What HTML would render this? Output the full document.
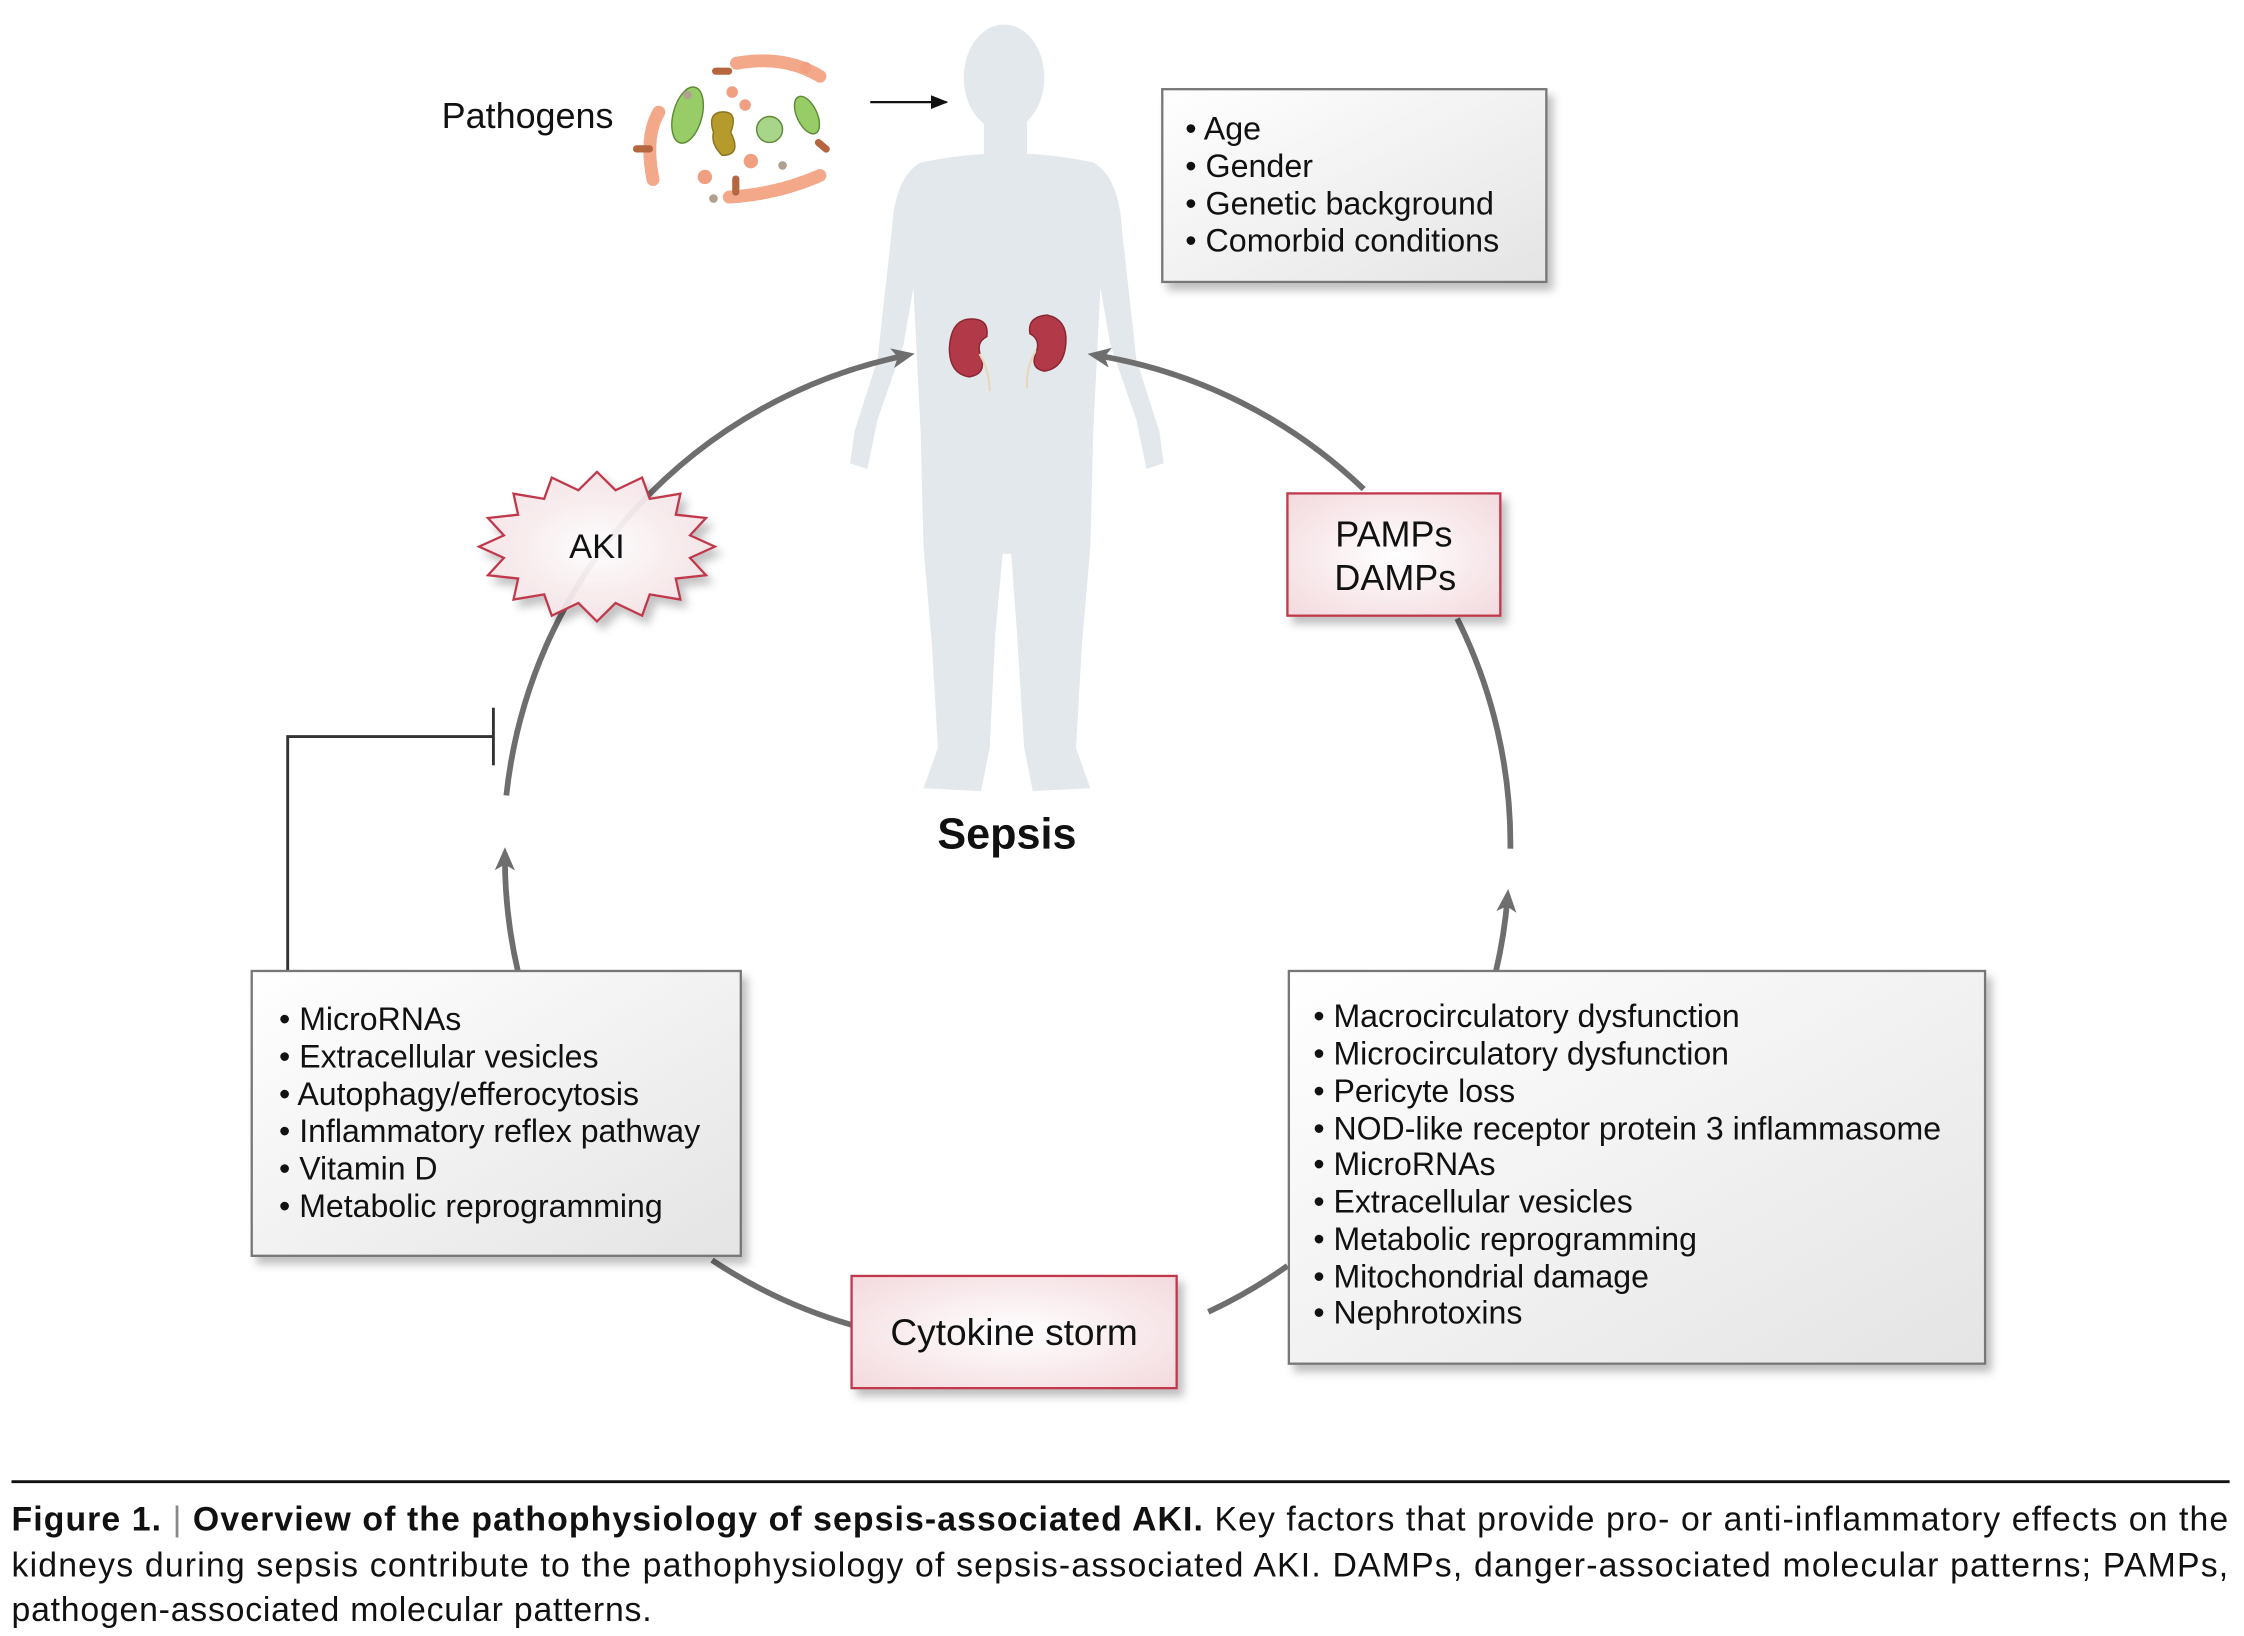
<!DOCTYPE html>
<html><head><meta charset="utf-8"><style>
html,body{margin:0;padding:0;background:#fff;}
svg{display:block;}
text{font-family:"Liberation Sans",sans-serif;fill:#111;}
</style></head><body>
<svg width="2244" height="1636" viewBox="0 0 1560 1137.3" preserveAspectRatio="none" xmlns="http://www.w3.org/2000/svg">
<defs>
<marker id="ah" markerWidth="16" markerHeight="14" refX="10" refY="7" orient="auto" markerUnits="userSpaceOnUse" viewBox="0 0 16 14">
<path d="M0,0 L16,7 L0,14 L4,7 Z" fill="#6e6e6e"/></marker>
<marker id="ab" markerWidth="12" markerHeight="12" refX="9" refY="5" orient="auto" markerUnits="userSpaceOnUse" viewBox="0 0 10 10">
<path d="M0,1 L10,5 L0,9 Z" fill="#111"/></marker>
<linearGradient id="gb" x1="0" y1="0" x2="1" y2="1"><stop offset="0" stop-color="#ffffff"/><stop offset="1" stop-color="#e4e4e4"/></linearGradient>
<radialGradient id="rb" cx="0.5" cy="0.5" r="0.7"><stop offset="0" stop-color="#ffffff"/><stop offset="1" stop-color="#f3d9dd"/></radialGradient>
<filter id="sh" x="-10%" y="-10%" width="130%" height="130%"><feDropShadow dx="4" dy="5" stdDeviation="3" flood-color="#000" flood-opacity="0.25"/></filter>
</defs>

<!-- body silhouette -->
<g fill="#e3e8ec">
<ellipse cx="698" cy="54" rx="28" ry="37"/>
<rect x="684" y="80" width="30" height="35"/>
<path d="M640,113 Q700,100 760,113 Q778,123 780,160 L790,250 L806,300 L809,322 L797,326 L790,292 L772,240 L765,200 L760,300 L758,380 L752,450 L748,520 L758,548 L718,550 L712,520 L707,440 L703,385 L697,385 L692,440 L688,520 L682,550 L642,548 L652,520 L648,450 L642,380 L640,300 L635,200 L628,240 L610,292 L603,326 L591,322 L594,300 L610,250 L620,160 Q622,123 640,113 Z"/>
</g>
<!-- kidneys -->
<g fill="#b23a48" stroke="#8a2533" stroke-width="1">
<path d="M672,222 Q688,220 686,234 Q678,238 682,248 Q686,260 674,262 Q660,260 660,242 Q661,224 672,222 Z"/>
<path d="M728,219 Q742,222 741,238 Q740,256 726,258 Q716,256 720,246 Q724,236 716,232 Q714,220 728,219 Z"/>
</g>
<path d="M681,246 Q688,258 688,272" stroke="#e8d7b8" stroke-width="1.5" fill="none"/>
<path d="M720,244 Q713,256 714,270" stroke="#e8d7b8" stroke-width="1.5" fill="none"/>

<!-- pathogens -->
<g>
<path d="M458,78 Q448,95 454,125" stroke="#f4a88a" stroke-width="9" fill="none" stroke-linecap="round" stroke-dasharray="3 2"/>
<path d="M512,44 Q545,38 570,53" stroke="#f4a88a" stroke-width="9" fill="none" stroke-linecap="round" stroke-dasharray="3 2"/>
<path d="M507,137 Q540,135 570,122" stroke="#f4a88a" stroke-width="9" fill="none" stroke-linecap="round" stroke-dasharray="3 2"/>
<ellipse cx="478" cy="80" rx="10" ry="20" fill="#98cc66" stroke="#5d8a35" transform="rotate(15 478 80)"/>
<ellipse cx="561" cy="80" rx="7" ry="14" fill="#98cc66" stroke="#5d8a35" transform="rotate(-25 561 80)"/>
<path d="M500,78 Q514,76 508,92 Q516,108 502,108 Q494,100 496,92 Q492,80 500,78 Z" fill="#b59a2c" stroke="#8a7420"/>
<circle cx="535" cy="90" r="9" fill="#a8d58a" stroke="#5d8a35"/>
<circle cx="518" cy="73" r="4" fill="#f0a080"/><circle cx="560" cy="47" r="4" fill="#f0a080"/>
<circle cx="522" cy="112" r="5" fill="#f0a080"/><circle cx="490" cy="123" r="5" fill="#f0a080"/>
<circle cx="509" cy="64" r="4" fill="#f0a080"/>
<rect x="440" y="101" width="14" height="5" rx="2.5" fill="#b5663e"/>
<rect x="495" y="47" width="14" height="5" rx="2.5" fill="#b5663e"/>
<rect x="566" y="99" width="12" height="5" rx="2.5" fill="#b5663e" transform="rotate(40 572 101)"/>
<rect x="509" y="122" width="5" height="14" rx="2.5" fill="#b5663e"/>
<circle cx="478" cy="66" r="3" fill="#b0a090"/><circle cx="544" cy="115" r="3" fill="#b0a090"/><circle cx="496" cy="138" r="3" fill="#b0a090"/>
</g>
<text x="307" y="89" font-size="25">Pathogens</text>
<line x1="605" y1="71" x2="658" y2="71" stroke="#111" stroke-width="1.6" marker-end="url(#ab)"/>

<!-- cycle arcs r=350 center (700,590) -->
<g stroke="#6e6e6e" stroke-width="4" fill="none">
<path d="M352,553 A350,350 0 0 1 630,247" marker-end="url(#ah)"/>
<path d="M948,340 A350,350 0 0 0 762,247" marker-end="url(#ah)"/>
<path d="M1013,430 A350,350 0 0 1 1050,590"/>
<path d="M1040,675 A350,350 0 0 0 1048,624" marker-end="url(#ah)"/>
<path d="M360,675 A350,350 0 0 1 351,595" marker-end="url(#ah)"/>
<path d="M495,876 A350,350 0 0 0 592,921"/>
<path d="M840,912 A350,350 0 0 0 895,880"/>
</g>

<!-- inhibition -->
<path d="M200,675 L200,512 L343,512" stroke="#333" stroke-width="2" fill="none"/>
<line x1="343" y1="492" x2="343" y2="532" stroke="#333" stroke-width="2"/>

<!-- AKI star -->
<polygon filter="url(#sh)" fill="url(#rb)" fill-opacity="0.92" stroke="#c0394b" stroke-width="1.6" points="497,380 479.7,387.8 490.8,399.9 469.8,402.2 473,416.8 451.7,413.2 446.4,428 427.9,419.2 415,432 402.1,419.2 383.6,428 378.3,413.2 357,416.8 360.2,402.2 339.2,399.9 350.3,387.8 333,380 350.3,372.2 339.2,360.1 360.2,357.8 357,343.2 378.3,346.8 383.6,332 402.1,340.8 415,328 427.9,340.8 446.4,332 451.7,346.8 473,343.2 469.8,357.8 490.8,360.1 479.7,372.2"/>
<text x="415" y="388" font-size="24" text-anchor="middle">AKI</text>

<!-- Age box -->
<rect x="808" y="62" width="267" height="134" fill="url(#gb)" stroke="#777" stroke-width="1.6" filter="url(#sh)"/>
<g font-size="22.4">
<text x="824" y="97">• Age</text>
<text x="824" y="123">• Gender</text>
<text x="824" y="149">• Genetic background</text>
<text x="824" y="175">• Comorbid conditions</text>
</g>

<!-- PAMPs -->
<rect x="895" y="343" width="148" height="85" fill="url(#rb)" stroke="#c0394b" stroke-width="1.6" filter="url(#sh)"/>
<text x="969" y="380" font-size="25" text-anchor="middle">PAMPs</text>
<text x="970" y="410" font-size="25" text-anchor="middle">DAMPs</text>

<!-- Sepsis -->
<text x="700" y="590" font-size="30" font-weight="bold" text-anchor="middle">Sepsis</text>

<!-- left box -->
<rect x="175" y="675" width="340" height="198" fill="url(#gb)" stroke="#777" stroke-width="1.6" filter="url(#sh)"/>
<g font-size="22.3">
<text x="194" y="716">• MicroRNAs</text>
<text x="194" y="742">• Extracellular vesicles</text>
<text x="194" y="768">• Autophagy/efferocytosis</text>
<text x="194" y="794">• Inflammatory reflex pathway</text>
<text x="194" y="820">• Vitamin D</text>
<text x="194" y="846">• Metabolic reprogramming</text>
</g>

<!-- right box -->
<rect x="896" y="675" width="484" height="273" fill="url(#gb)" stroke="#777" stroke-width="1.6" filter="url(#sh)"/>
<g font-size="22.3">
<text x="913" y="714">• Macrocirculatory dysfunction</text>
<text x="913" y="740">• Microcirculatory dysfunction</text>
<text x="913" y="766">• Pericyte loss</text>
<text x="913" y="792">• NOD-like receptor protein 3 inflammasome</text>
<text x="913" y="817">• MicroRNAs</text>
<text x="913" y="843">• Extracellular vesicles</text>
<text x="913" y="869">• Metabolic reprogramming</text>
<text x="913" y="895">• Mitochondrial damage</text>
<text x="913" y="920">• Nephrotoxins</text>
</g>

<!-- Cytokine -->
<rect x="592" y="887" width="226" height="78" fill="url(#rb)" stroke="#c0394b" stroke-width="1.6" filter="url(#sh)"/>
<text x="705" y="935" font-size="25.8" text-anchor="middle">Cytokine storm</text>

<!-- caption -->
<line x1="8" y1="1030" x2="1550" y2="1030" stroke="#111" stroke-width="2"/>
<g font-size="23.5">
<text x="8" y="1064" textLength="1541" lengthAdjust="spacing"><tspan font-weight="bold">Figure 1.</tspan> <tspan fill="#888">|</tspan> <tspan font-weight="bold">Overview of the pathophysiology of sepsis-associated AKI.</tspan> Key factors that provide pro- or anti-inflammatory effects on the</text>
<text x="8" y="1096" textLength="1541" lengthAdjust="spacing">kidneys during sepsis contribute to the pathophysiology of sepsis-associated AKI. DAMPs, danger-associated molecular patterns; PAMPs,</text>
<text x="8" y="1127" textLength="445" lengthAdjust="spacing">pathogen-associated molecular patterns.</text>
</g>
</svg>
</body></html>
